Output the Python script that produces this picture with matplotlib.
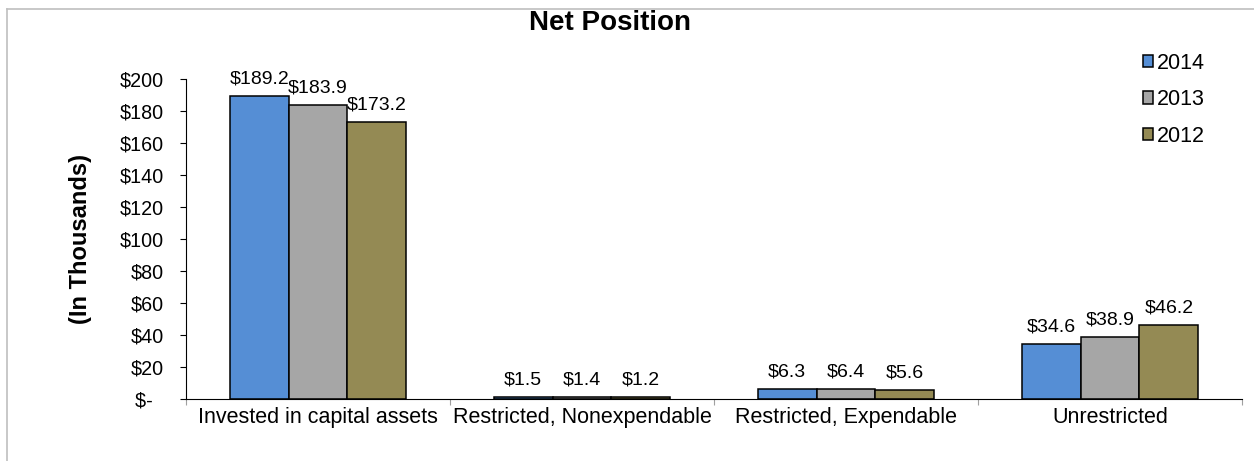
import matplotlib
matplotlib.use("Agg")
import matplotlib.pyplot as plt
from matplotlib.patches import Patch
from matplotlib.lines import Line2D
import numpy as np

plt.rcParams['font.family'] = ['Liberation Sans', 'DejaVu Sans']

# ---------- DATA ----------
categories = ["Invested in capital assets", "Restricted, Nonexpendable",
              "Restricted, Expendable", "Unrestricted"]
years = ["2014", "2013", "2012"]
v2014 = [189.2, 1.5, 6.3, 34.6]
v2013 = [183.9, 1.4, 6.4, 38.9]
v2012 = [173.2, 1.2, 5.6, 46.2]
colors = ["#558ED5", "#A6A6A6", "#948A54"]
yticks = [0, 20, 40, 60, 80, 100, 120, 140, 160, 180, 200]

# ---------- PLOT ----------
W, H = 1254, 461
fig = plt.figure(figsize=(W / 100, H / 100), dpi=100)
ax = fig.add_axes([186 / W, 1 - 399 / H, (1242 - 186) / W, (399 - 79) / H])

x = np.arange(len(categories))
bw = 0.223
for i, (vals, c) in enumerate(zip([v2014, v2013, v2012], colors)):
    pos = x + (i - 1) * bw
    ax.bar(pos, vals, bw, color=c, edgecolor="black", linewidth=1.1)
    for p, v in zip(pos, vals):
        ax.annotate(f"${v:.1f}", (p, v), xytext=(0, 6), textcoords="offset points",
                    ha="center", va="bottom", fontsize=14)

ax.set_xlim(-0.5, len(categories) - 0.5)
ax.set_ylim(0, 200)
ax.set_yticks(yticks)
ax.set_yticklabels(["$-  " if t == 0 else f"${t}" for t in yticks])
ax.tick_params(axis="y", direction="out", length=4, width=0.8, pad=12, labelsize=14.2)

ax.set_xticks(x)
ax.set_xticklabels(categories)
ax.tick_params(axis="x", which="major", length=0, pad=6, labelsize=15.5)
ax.set_xticks(np.arange(len(categories) + 1) - 0.5, minor=True)
ax.tick_params(axis="x", which="minor", length=4, color="#A0A0A0", width=0.8)

for s in ["top", "right"]:
    ax.spines[s].set_visible(False)
ax.spines["left"].set_linewidth(0.8)
ax.spines["bottom"].set_linewidth(0.8)

ax.set_ylabel("(In Thousands)", fontsize=17, fontweight="bold", labelpad=20)
fig.text(610 / W, 1 - 23 / H, "Net Position", ha="center", va="center",
         fontsize=20, fontweight="bold")

handles = [Patch(facecolor=c, edgecolor="black", linewidth=1.1) for c in colors]
fig.legend(handles, years, loc="upper left", bbox_to_anchor=(1134 / W, 1 - 44 / H),
           frameon=False, fontsize=15.5, handlelength=0.5, handleheight=0.5,
           handletextpad=0.15, labelspacing=0.72, borderaxespad=0)

# outer chart border (left and top visible)
fig.add_artist(Line2D([7 / W, 7 / W], [-0.1, 1 - 9 / H], color="#BFBFBF", lw=1.2))
fig.add_artist(Line2D([7 / W, 1.1], [1 - 9 / H, 1 - 9 / H], color="#BFBFBF", lw=1.2))

fig.savefig("out.png", dpi=100)
